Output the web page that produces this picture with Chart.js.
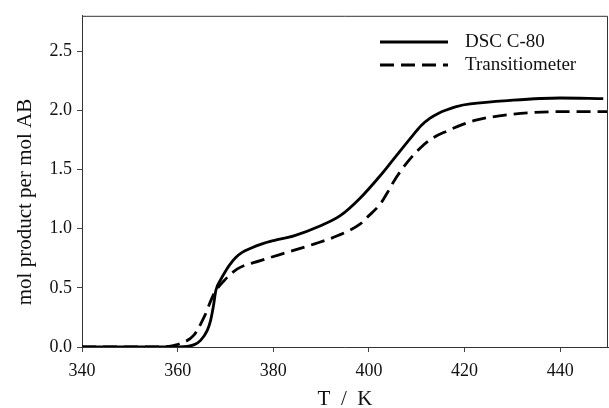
<!DOCTYPE html>
<html>
<head>
<meta charset="utf-8">
<script src="https://cdn.jsdelivr.net/npm/chart.js@4.4.0/dist/chart.umd.min.js"></script>
<style>
    html, body { margin: 0; padding: 0; background: #fff; }
    #wrap { width: 609px; height: 408px; }
</style>
</head>
<body>
<div id="wrap"><canvas id="chart"></canvas></div>
<script>
// data
const seriesNames = ['DSC C-80', 'Transitiometer'];

const dscT = [340, 350, 358, 362, 363.5, 364.8, 366.2, 366.9, 367.5, 368, 369, 369.7, 370.8, 372.1, 373.5, 375.3,
    377.5, 380.1, 384.3, 389.9, 394, 398.2, 402.4, 405, 409.4, 411, 412.8, 414.5, 416.3, 418.5, 421.2, 429.5, 440, 449];
const dscY = [0, 0, 0, 0.005, 0.02, 0.056, 0.14, 0.225, 0.35, 0.48, 0.57, 0.62, 0.69, 0.755, 0.80, 0.835,
    0.87, 0.90, 0.94, 1.025, 1.11, 1.26, 1.45, 1.58, 1.80, 1.875, 1.935, 1.975, 2.005, 2.035, 2.055, 2.085, 2.105, 2.10];

const transT = [340, 350, 356, 358, 360.6, 363.4, 365.5, 367.6, 369.7, 372.5, 377.3, 382.9, 388.5, 393.4,
    398.2, 399.6, 402.4, 403.8, 405.2, 407.8, 410.8, 413.5, 416.3, 419.5, 422.6, 429.5, 440, 450];
const transY = [0, 0, 0, 0.005, 0.03, 0.10, 0.25, 0.45, 0.56, 0.66, 0.73, 0.80, 0.87, 0.94,
    1.04, 1.095, 1.21, 1.30, 1.40, 1.55, 1.685, 1.77, 1.825, 1.88, 1.92, 1.965, 1.99, 1.99];

const xTicks = [340, 360, 380, 400, 420, 440];
const yTicks = [0, 0.5, 1.0, 1.5, 2.0, 2.5];

const serif = "'Liberation Serif', 'DejaVu Serif', serif";

function toPoints(xs, ys) {
    return xs.map((x, i) => ({ x: x, y: ys[i] }));
}

// frame, legend and y title drawn on top of the chart
const extras = {
    id: 'extras',
    afterDraw(chart) {
        const ctx = chart.ctx;
        const a = chart.chartArea;
        ctx.save();
        ctx.strokeStyle = '#333';
        ctx.lineWidth = 1;
        ctx.beginPath();
        ctx.moveTo(a.left, a.top + 0.5);
        ctx.lineTo(a.right - 0.5, a.top + 0.5);
        ctx.lineTo(a.right - 0.5, a.bottom);
        ctx.stroke();

        // legend
        chart.data.datasets.forEach((ds, i) => {
            const y = 42 + i * 23;
            ctx.strokeStyle = '#000';
            ctx.lineWidth = 3;
            ctx.setLineDash(ds.borderDash || []);
            ctx.beginPath();
            ctx.moveTo(380, y);
            ctx.lineTo(448, y);
            ctx.stroke();
            ctx.setLineDash([]);
            ctx.fillStyle = '#111';
            ctx.font = '19px ' + serif;
            ctx.textAlign = 'left';
            ctx.textBaseline = 'middle';
            ctx.fillText(ds.label, 465, y);
        });

        // y axis title
        ctx.translate(25, 202);
        ctx.rotate(-Math.PI / 2);
        ctx.font = '21px ' + serif;
        ctx.textAlign = 'center';
        ctx.textBaseline = 'middle';
        ctx.fillText('mol product per mol AB', 0, 0);
        ctx.restore();
    }
};

new Chart(document.getElementById('chart'), {
    type: 'line',
    data: {
        datasets: [{
            label: seriesNames[0],
            data: toPoints(dscT, dscY),
            borderColor: '#000',
            borderWidth: 2.8,
            pointRadius: 0,
            cubicInterpolationMode: 'monotone'
        }, {
            label: seriesNames[1],
            data: toPoints(transT, transY),
            borderColor: '#000',
            borderWidth: 2.8,
            borderDash: [14, 7],
            pointRadius: 0,
            cubicInterpolationMode: 'monotone'
        }]
    },
    options: {
        responsive: true,
        maintainAspectRatio: false,
        animation: false,
        layout: { padding: { top: 13, right: 1, left: 0, bottom: 0 } },
        plugins: {
            legend: { display: false },
            tooltip: { enabled: false }
        },
        scales: {
            x: {
                type: 'linear',
                min: 340,
                max: 450,
                afterBuildTicks: s => { s.ticks = xTicks.map(v => ({ value: v })); },
                afterFit: s => { s.height = 61; },
                ticks: {
                    color: '#111',
                    font: { family: serif, size: 18 },
                    padding: 8,
                    maxRotation: 0
                },
                grid: { drawOnChartArea: false, drawTicks: true, tickLength: 5, color: '#444' },
                border: { display: true, color: '#333', width: 1 },
                title: {
                    display: true,
                    text: 'T  /  K',
                    color: '#111',
                    font: { family: serif, size: 21, lineHeight: 1 },
                    padding: { top: 0, bottom: -2 }
                }
            },
            y: {
                min: 0,
                max: 2.8,
                afterBuildTicks: s => { s.ticks = yTicks.map(v => ({ value: v })); },
                afterFit: s => { s.width = 82; },
                ticks: {
                    color: '#111',
                    font: { family: serif, size: 18 },
                    padding: 5,
                    callback: v => Number(v).toFixed(1)
                },
                grid: { drawOnChartArea: false, drawTicks: true, tickLength: 5, color: '#444' },
                border: { display: true, color: '#333', width: 1 }
            }
        }
    },
    plugins: [extras]
});
</script>
</body>
</html>
